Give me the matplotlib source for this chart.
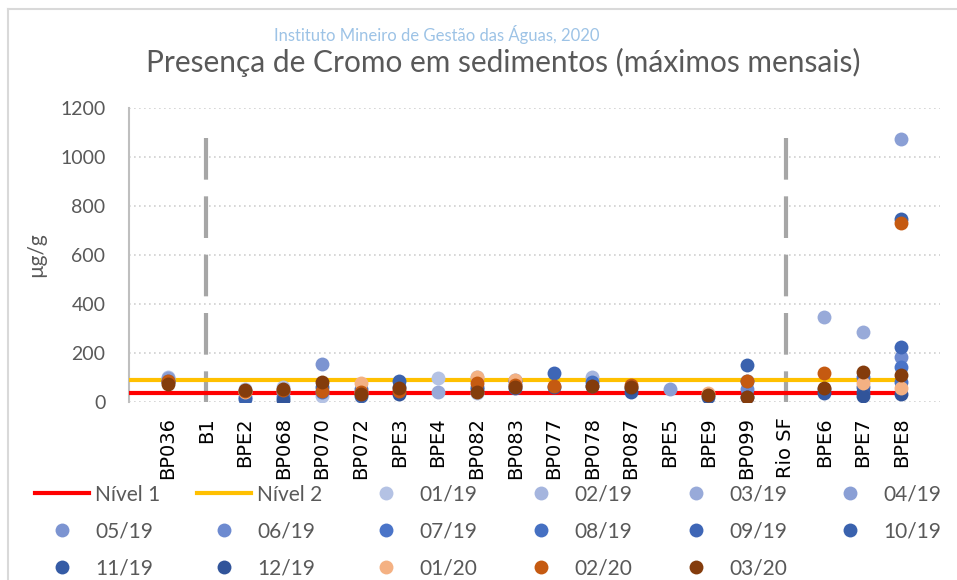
import numpy as np
import matplotlib.pyplot as plt
from matplotlib.lines import Line2D

nan = np.nan

estacoes = ["BP036", "B1", "BPE2", "BP068", "BP070", "BP072", "BPE3", "BPE4",
            "BP082", "BP083", "BP077", "BP078", "BP087", "BPE5", "BPE9",
            "BP099", "Rio SF", "BPE6", "BPE7", "BPE8"]

meses = ["01/19", "02/19", "03/19", "04/19", "05/19", "06/19", "07/19", "08/19",
         "09/19", "10/19", "11/19", "12/19", "01/20", "02/20", "03/20"]

# Máximos mensais (µg/g) por estação
cromo = {
    "01/19": [100, nan, 50, 60, 25, 40, nan, 95, 35, nan, nan, nan, nan, nan, nan, nan, nan, nan, nan, nan],
    "02/19": [nan, nan, nan, nan, nan, nan, nan, nan, 100, nan, nan, 100, nan, nan, nan, nan, nan, nan, nan, nan],
    "03/19": [nan, nan, nan, nan, nan, nan, nan, 38, nan, nan, nan, nan, nan, nan, nan, nan, nan, 347, 286, nan],
    "04/19": [95, nan, 45, 40, nan, nan, nan, nan, nan, 90, nan, nan, nan, 53, nan, nan, nan, nan, nan, 1072],
    "05/19": [nan, nan, nan, nan, 155, nan, nan, nan, nan, nan, nan, nan, nan, nan, nan, nan, nan, nan, nan, nan],
    "06/19": [nan, nan, nan, nan, nan, nan, nan, nan, nan, nan, nan, nan, nan, nan, nan, 50, nan, nan, nan, 184],
    "07/19": [85, nan, 20, 20, 40, 50, 60, nan, 60, 70, nan, nan, nan, nan, nan, nan, nan, nan, 100, 143],
    "08/19": [nan, nan, nan, nan, nan, nan, nan, nan, nan, nan, nan, 80, nan, nan, nan, 85, nan, 50, nan, 80],
    "09/19": [nan, nan, nan, nan, nan, nan, nan, nan, nan, nan, 118, nan, nan, nan, nan, nan, nan, nan, 60, 224],
    "10/19": [80, nan, 10, nan, 60, 25, 85, nan, 50, 55, nan, nan, nan, nan, nan, 150, nan, nan, nan, 744],
    "11/19": [nan, nan, nan, nan, nan, nan, nan, nan, nan, nan, nan, 65, 40, nan, 20, nan, nan, 35, 40, nan],
    "12/19": [nan, nan, nan, 8, nan, nan, 30, nan, nan, 85, 58, nan, 55, nan, nan, 20, nan, nan, 25, 31],
    "01/20": [nan, nan, 38, nan, nan, 78, nan, nan, 102, 90, nan, nan, nan, nan, 37, nan, nan, nan, 75, 55],
    "02/20": [85, nan, 45, 48, 45, 40, 45, nan, 75, 70, 65, nan, 70, nan, nan, 84, nan, 118, nan, 728],
    "03/20": [72, nan, 48, 50, 82, 32, 55, nan, 40, 62, nan, 65, 62, nan, 27, 18, nan, 57, 120, 110],
}

cores = ["#B4C2E4", "#A5B5DE", "#98AAD9", "#8A9FD5", "#7C94D1", "#6D8AD0",
         "#4A74C8", "#4570C2", "#3E66B6", "#3A62AE", "#355BA5", "#31549A",
         "#F4B183", "#C55A11", "#843C0C"]

nivel1 = 37.3
nivel2 = 90
divisoes = [2, 17]  # B1 e Rio SF

plt.rcParams['font.family'] = ['Lato', 'DejaVu Sans']

fig = plt.figure(figsize=(9.57, 5.8), dpi=100)
ax = fig.add_axes([129 / 957, 1 - 401.7 / 580, (940 - 129) / 957, 294 / 580])

x = np.arange(1, len(estacoes) + 1)

for xd in divisoes:
    ax.plot([xd, xd], [1075, 0], color="#A6A6A6", lw=3, dashes=(10, 4), zorder=2)

l1, = ax.plot([0, 20], [nivel1, nivel1], color="#FF0000", lw=3, zorder=3, label="Nível 1")
l2, = ax.plot([0, 20], [nivel2, nivel2], color="#FFC000", lw=3, zorder=3, label="Nível 2")

handles = [l1, l2]
for mes, cor in zip(meses, cores):
    h, = ax.plot(x, cromo[mes], "o", color=cor, ms=10, mec="none", zorder=4, label=mes)
    handles.append(h)

ax.set_xlim(0, 21)
ax.set_ylim(0, 1200)
ax.set_yticks(range(0, 1201, 200))
ax.set_xticks(x)
ax.set_xticklabels(estacoes, rotation=90, family="DejaVu Sans", fontsize=10.5)
ax.tick_params(axis="both", length=0, colors="#000000", labelsize=14)
ax.tick_params(axis="y", pad=17, labelcolor="#595959")
ax.tick_params(axis="x", pad=11)
ax.grid(axis="y", color="#D0D0D0", ls=(0, (1, 2)), lw=1.2)
ax.set_axisbelow(True)
for s in ["top", "right", "bottom"]:
    ax.spines[s].set_visible(False)
ax.spines["left"].set_color("#BFBFBF")
ax.spines["left"].set_linewidth(1.5)

ax.set_ylabel("µg/g", fontsize=15, color="#595959", labelpad=10)

fig.text(437 / 957, 1 - 35 / 580, "Instituto Mineiro de Gestão das Águas, 2020",
         ha="center", va="center", fontsize=12, color="#9DC3E6")
fig.text(503 / 957, 1 - 62 / 580, "Presença de Cromo em sedimentos (máximos mensais)",
         ha="center", va="center", fontsize=21.5, color="#595959")

# legenda em ordem por linhas, como no original
ordem = [0, 6, 12, 1, 7, 13, 2, 8, 14, 3, 9, 15, 4, 10, 16, 5, 11]
hs = [handles[i] for i in ordem]
fig.legend(hs, [h.get_label() for h in hs], ncol=6, loc="upper left",
           bbox_to_anchor=(16 / 957, 1 - 466 / 580), frameon=False,
           fontsize=15, labelcolor="#595959", handlelength=2.6,
           columnspacing=1.75, handletextpad=0.3, labelspacing=0.8)

fig.add_artist(Line2D([8 / 957, 8 / 957], [0, 1 - 9 / 580], color="#D9D9D9", lw=1.5))
fig.add_artist(Line2D([8 / 957, 1], [1 - 9 / 580, 1 - 9 / 580], color="#D9D9D9", lw=1.5))

fig.savefig("out.png", dpi=100)
